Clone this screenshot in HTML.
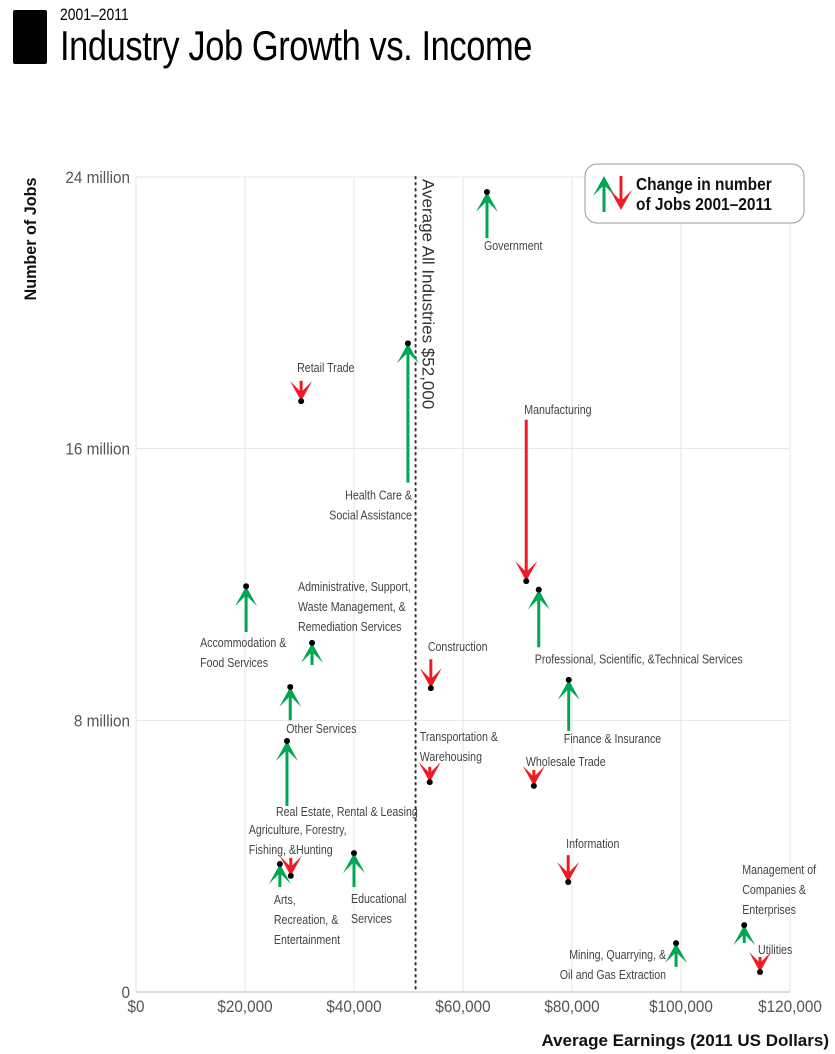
<!DOCTYPE html>
<html><head><meta charset="utf-8"><style>
html,body{margin:0;padding:0;background:#fff;}
body{width:835px;height:1054px;overflow:hidden;position:relative;font-family:"Liberation Sans Narrow","Liberation Sans",sans-serif;}
svg text{font-family:"Liberation Sans Narrow","Liberation Sans",sans-serif;}
</style></head><body>
<div style="position:absolute;left:13px;top:10px;width:34px;height:54px;background:#000;border-radius:2px;"></div>
<div style="position:absolute;left:60px;top:5px;font-size:17px;color:#000;transform:scaleX(0.82);transform-origin:0 0;">2001–2011</div>
<div style="position:absolute;left:60px;top:22px;font-size:42px;line-height:48px;color:#000;letter-spacing:-0.5px;transform:scaleX(0.82);transform-origin:0 0;white-space:nowrap;">Industry Job Growth vs. Income</div>
<svg id="chart" width="835" height="1054" style="position:absolute;left:0;top:0;"></svg>
<script>
const xTicks=[0,20000,40000,60000,80000,100000,120000];
const xTickLabels=["$0","$20,000","$40,000","$60,000","$80,000","$100,000","$120,000"];
const yTicks=[0,8,16,24];
const yTickLabels=["0","8 million","16 million","24 million"];
const industries=["Government","Health Care","Retail Trade","Manufacturing","Professional","Accommodation","Administrative","Construction","Other Services","Finance","Real Estate","Transportation","Wholesale","Information","Agriculture","Arts","Educational","Mining","Management","Utilities"];
const earnings=[64400,49900,30300,71600,73900,20200,32300,54100,28300,79400,27700,53900,73000,79300,28400,26400,40000,99100,111600,114500];
const jobs2001=[22.2,15.0,18.0,16.85,10.15,10.6,9.63,9.8,8.0,7.69,5.48,6.63,6.54,4.03,3.95,3.09,3.09,0.74,1.44,1.03];
const jobs2011=[23.56,19.1,17.4,12.1,11.85,11.95,10.28,8.95,8.98,9.19,7.39,6.18,6.07,3.24,3.42,3.77,4.09,1.44,1.97,0.59];
const avgEarnings=51300;
const labels=[
 [["Government"],-3,58,"start"],
 [["Health Care &","Social Assistance"],4,156,"end"],
 [["Retail Trade"],-4,-29,"start"],
 [["Manufacturing"],-2,-167,"start"],
 [["Professional, Scientific, &Technical Services"],-4,74,"start"],
 [["Accommodation &","Food Services"],-46,61,"start"],
 [["Administrative, Support,","Waste Management, &","Remediation Services"],-14,-52,"start"],
 [["Construction"],-3,-37,"start"],
 [["Other Services"],-4,46,"start"],
 [["Finance & Insurance"],-5,63,"start"],
 [["Real Estate, Rental & Leasing"],-11,75,"start"],
 [["Transportation &","Warehousing"],-10,-41,"start"],
 [["Wholesale Trade"],-8,-20,"start"],
 [["Information"],-2,-34,"start"],
 [["Agriculture, Forestry,","Fishing, &Hunting"],-42,-42,"start"],
 [["Arts,","Recreation, &","Entertainment"],-6,40,"start"],
 [["Educational","Services"],-3,50,"start"],
 [["Mining, Quarrying, &","Oil and Gas Extraction"],-10,16,"end"],
 [["Management of","Companies &","Enterprises"],-2,-51,"start"],
 [["Utilities"],-2,-18,"start"]
];
const svg=document.getElementById('chart');
const NS='http://www.w3.org/2000/svg';
const L=136,R=790,T=177,B=992;
const xs=v=>L+(v/120000)*(R-L);
const ys=v=>B-(v/24)*(B-T);
function mk(tag,attrs,parent){const e=document.createElementNS(NS,tag);for(const k in attrs)e.setAttribute(k,attrs[k]);(parent||svg).appendChild(e);return e;}
xTicks.forEach((t,i)=>{
 const g=mk('line',{x1:xs(t),x2:xs(t),y1:T,y2:B,stroke:'#e6e6e6','stroke-width':1});
 
 
 const tx=mk('text',{x:0,y:0,'text-anchor':'middle','font-size':17,fill:'#555',transform:`translate(${xs(t)},1012) scale(0.9,1)`});
 tx.textContent=xTickLabels[i];
 
 
});
yTicks.forEach((t,i)=>{
 const g=mk('line',{x1:L,x2:R,y1:ys(t),y2:ys(t),stroke:t===0?'#bbb':'#e6e6e6','stroke-width':1});
 
 
 const tx=mk('text',{x:0,y:0,'text-anchor':'end','font-size':17,fill:'#555',transform:`translate(130,${ys(t)+6}) scale(0.9,1)`});
 tx.textContent=yTickLabels[i];
 
 
});
let at=mk('text',{x:0,y:0,'text-anchor':'end','font-size':17,'font-weight':'bold',fill:'#111',transform:'translate(829,1046) scale(1,1)'});
at.textContent='Average Earnings (2011 US Dollars)';


at=mk('text',{x:0,y:0,'text-anchor':'middle','font-size':17,'font-weight':'bold',fill:'#111',transform:'translate(36,239) rotate(-90) scale(0.95,1)'});
at.textContent='Number of Jobs';


const ax=xs(avgEarnings);
let al=mk('line',{x1:ax,x2:ax,y1:T,y2:B,stroke:'#333','stroke-width':2,'stroke-dasharray':'1.5,4.5','stroke-linecap':'round'});


al=mk('text',{x:0,y:0,'font-size':17,fill:'#333',transform:`translate(${ax+7},179) rotate(90)`});
al.textContent='Average All Industries $52,000';


function arrow(x,y1,y2,color,name,dot){
 const g=mk('g',{});
 
 
 const dir=y2<y1?-1:1;
 const hl=20,hw=11,notch=9;
 mk('line',{x1:x,x2:x,y1:y1,y2:y2-dir*notch,stroke:color,'stroke-width':3},g);
 mk('polygon',{points:`${x},${y2} ${x+hw},${y2-dir*hl} ${x},${y2-dir*notch} ${x-hw},${y2-dir*hl}`,fill:color},g);
 if(dot) mk('circle',{cx:x,cy:y2,r:3,fill:'#000'},g);
 return g;
}
industries.forEach((n,i)=>{
 const x=xs(earnings[i]),y1=ys(jobs2001[i]),y2=ys(jobs2011[i]);
 const up=jobs2011[i]>jobs2001[i];
 arrow(x,y1,y2,up?'#00a651':'#ed1c24','arrow-'+n.toLowerCase().replace(/\s+/g,'-'),true);
 const lb=labels[i];
 const t=mk('text',{x:0,y:0,'text-anchor':lb[3],'font-size':13.3,fill:'#444',transform:`translate(${x+lb[1]},${y2+lb[2]}) scale(0.8,1)`});
 
 
 lb[0].forEach((s,j)=>{const ts=mk('tspan',{x:0,dy:j===0?0:20},t);ts.textContent=s;});
});
const lg=mk('g',{});


mk('rect',{x:585,y:164,width:219,height:59,rx:12,fill:'#fff',stroke:'#999','stroke-width':1},lg);
arrow(604,212,176,'#00a651','legend-up-arrow',false);
arrow(621,176,210,'#ed1c24','legend-down-arrow',false);
const lt=mk('text',{x:0,y:0,'font-size':18,'font-weight':'bold',fill:'#111',transform:'translate(636,190) scale(0.86,1)'},lg);


let s1=mk('tspan',{x:0,dy:0},lt);s1.textContent='Change in number';
let s2=mk('tspan',{x:0,dy:20},lt);s2.textContent='of Jobs 2001–2011';
</script>
</body></html>
